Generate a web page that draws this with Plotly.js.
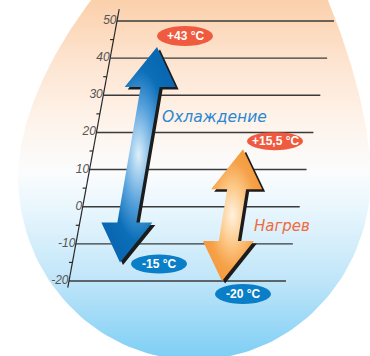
<!DOCTYPE html>
<html><head><meta charset="utf-8">
<script src="https://cdn.plot.ly/plotly-3.0.1.min.js"></script>
<style>html,body{margin:0;padding:0;background:#fff;}#chart{width:370px;height:356px;}</style>
</head><body><div id="chart"></div>
<script>
// ---- data ----
const tickValues = [50, 40, 30, 20, 10, 0, -10, -20];
const tickLabels = ['50', '40', '30', '20', '10', '0', '-10', '-20'];
const minorTicks = [45, 35, 25, 15, 5, -5, -15];
const modeNames = ['Охлаждение', 'Нагрев'];
const maxTemps = [43, 15.5];
const minTemps = [-15, -20];
const maxLabels = ['+43 °C', '+15,5 °C'];
const minLabels = ['-15 °C', '-20 °C'];

// ---- layout geometry (pixels) ----
const W = 370, H = 356;
const K = 260 / 70;                 // px per degree
const YHI = 50 + 21 / K, YLO = YHI - H / K;
const pv = p => YHI - p / K;        // pixel row -> axis value
const axisX = v => 69 + (v + 20) * 48 / 70;
const lineLen = 217;

const traces = [];

// background oval (decoration, built in pixel space)
(function () {
  const cx = 194.5, cy = 176, a = 176.5, bLow = 184;
  const upHW = dy => a * (1 - 3.87e-5 * Math.pow(dy, 1.75));
  const upCX = dy => cx + 15 * Math.pow(dy / 176, 2);
  const xs = [], ys = [];
  for (let y = -45; y <= cy; y += 3) { const dy = cy - y; xs.push(upCX(dy) + upHW(dy)); ys.push(y); }
  for (let i = 0; i <= 90; i++) { const t = i / 90 * Math.PI; xs.push(cx + a * Math.cos(t)); ys.push(cy + bLow * Math.sin(t)); }
  for (let y = cy; y >= -45; y -= 3) { const dy = cy - y; xs.push(upCX(dy) - upHW(dy)); ys.push(y); }
  traces.push({x: xs, y: ys.map(pv), mode: 'lines', fill: 'toself', line: {width: 0}, hoverinfo: 'skip',
    fillcolor: '#f6f6f6',
    fillgradient: {type: 'vertical', start: pv(H), stop: pv(0), colorscale: [
      [0, '#7fcff5'], [0.21, '#bfe5f9'], [0.41, '#e8f6fd'], [0.52, '#fbfcfd'],
      [0.66, '#fef3ea'], [0.83, '#fde4d0'], [1, '#fbd0ab']]}});
})();

// grid lines
(function () {
  const xs = [], ys = [];
  tickValues.forEach(v => { xs.push(axisX(v), axisX(v) + lineLen, null); ys.push(v, v, null); });
  traces.push({x: xs, y: ys, mode: 'lines', line: {color: '#3a3a3a', width: 1.4}, hoverinfo: 'skip'});
})();
// axis line
traces.push({x: [axisX(53.2), axisX(-21.8)], y: [53.2, -21.8], mode: 'lines',
  line: {color: '#2a2a2a', width: 1.2}, hoverinfo: 'skip'});
// minor ticks
(function () {
  const xs = [], ys = [];
  minorTicks.forEach(v => { xs.push(axisX(v) - 3.5, axisX(v), null); ys.push(v, v, null); });
  traces.push({x: xs, y: ys, mode: 'lines', line: {color: '#2a2a2a', width: 1.2}, hoverinfo: 'skip'});
})();
// tick labels
traces.push({x: tickValues.map(v => axisX(v) - 0.5), y: tickValues, mode: 'text', text: tickLabels,
  textposition: 'middle left', hoverinfo: 'skip',
  textfont: {family: 'Liberation Sans, Arial, sans-serif', size: 12, color: '#555', style: 'italic'}});

// arrows
const tipTopX = [157, 243], tipBotX = [120, 222];
const headLen = 40 / K, headHalf = 25.5, shaftHalf = 9.5;
const fills = [
  [[0, '#dcefFb'], [0.45, '#5aa3dd'], [0.8, '#0b6fb8'], [1, '#0a68b2']],
  [[0, '#fff2e0'], [0.45, '#fcc886'], [0.8, '#f6a24a'], [1, '#f59b3e']]
];
function arrowPts(i, dx, dyPx) {
  const vt = maxTemps[i], vb = minTemps[i], xt = tipTopX[i], xb = tipBotX[i];
  const cx = v => xb + (xt - xb) * (v - vb) / (vt - vb);
  const a = vt - headLen, c = vb + headLen;
  const P = [[xt, vt], [cx(a) + headHalf, a], [cx(a) + shaftHalf, a], [cx(c) + shaftHalf, c],
    [cx(c) + headHalf, c], [xb, vb], [cx(c) - headHalf, c], [cx(c) - shaftHalf, c],
    [cx(a) - shaftHalf, a], [cx(a) - headHalf, a], [xt, vt]];
  return {x: P.map(p => p[0] + dx), y: P.map(p => p[1] - dyPx / K)};
}
[0, 1].forEach(i => {
  const s = arrowPts(i, 3, 2.5);
  traces.push({x: s.x, y: s.y, mode: 'lines', fill: 'toself', fillcolor: '#1c1c1c', line: {width: 0}, hoverinfo: 'skip'});
});
[0, 1].forEach(i => {
  const s = arrowPts(i, 0, 0);
  traces.push({x: s.x, y: s.y, mode: 'lines', fill: 'toself', line: {width: 0}, hoverinfo: 'skip',
    fillcolor: i ? '#f8b060' : '#2a80c8',
    fillgradient: {type: 'radial', colorscale: fills[i]}});
});

// pills
const pillOff = { // [dx, dy] from tip in px
  top: [[28, -11], [32, -8]],
  bot: [[39, 1.5], [21, 13]]
};
const shapes = [], annotations = [];
function pill(x, v, h, color, label) {
  shapes.push({type: 'circle', xref: 'x', yref: 'y', x0: x - 28, x1: x + 28,
    y0: v - h / 2 / K, y1: v + h / 2 / K, fillcolor: color, line: {width: 0}});
  annotations.push({xref: 'x', yref: 'y', x: x, y: v, text: label, showarrow: false,
    font: {family: 'Liberation Sans, Arial, sans-serif', size: 12, color: '#fff', weight: 'bold'}});
}
[0, 1].forEach(i => {
  pill(tipTopX[i] + pillOff.top[i][0], maxTemps[i] - pillOff.top[i][1] / K, i ? 18 : 20, '#f05a3e', maxLabels[i]);
  pill(tipBotX[i] + pillOff.bot[i][0], minTemps[i] - pillOff.bot[i][1] / K, i ? 20 : 19, '#0a7fc8', minLabels[i]);
});

// mode labels
annotations.push({xref: 'x', yref: 'y', x: 214.5, y: pv(117), text: modeNames[0], showarrow: false,
  font: {family: 'DejaVu Sans, sans-serif', size: 15.5, color: '#2b87cf', style: 'italic'}});
annotations.push({xref: 'x', yref: 'y', x: 281.5, y: pv(226), text: modeNames[1], showarrow: false,
  font: {family: 'DejaVu Sans, sans-serif', size: 15, color: '#f06b3c', style: 'italic'}});

Plotly.newPlot('chart', traces, {
  width: W, height: H, margin: {l: 0, r: 0, t: 0, b: 0},
  paper_bgcolor: '#ffffff', plot_bgcolor: 'rgba(0,0,0,0)', showlegend: false,
  xaxis: {range: [0, W], visible: false, fixedrange: true},
  yaxis: {range: [YLO, YHI], visible: false, fixedrange: true},
  shapes: shapes, annotations: annotations
}, {staticPlot: true, displayModeBar: false});
</script></body></html>
